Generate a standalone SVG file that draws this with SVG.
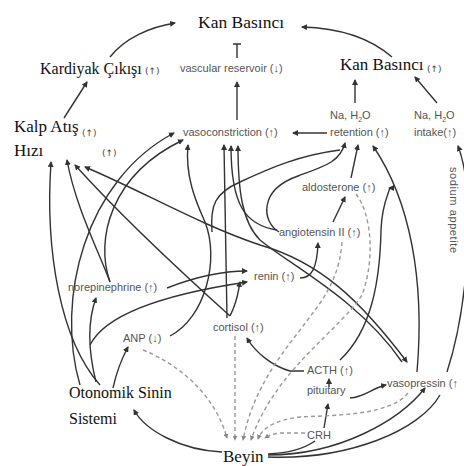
<svg xmlns="http://www.w3.org/2000/svg" width="464" height="466" viewBox="0 0 464 466">
<defs>
<marker id="ah" viewBox="0 0 6 6" refX="5" refY="3" markerWidth="6" markerHeight="6" markerUnits="userSpaceOnUse" orient="auto-start-reverse"><path d="M0,0 L6,3 L0,6 z" fill="#333"/></marker>
<marker id="ahd" viewBox="0 0 6 6" refX="5" refY="3" markerWidth="5" markerHeight="5" markerUnits="userSpaceOnUse" orient="auto"><path d="M0,0 L6,3 L0,6 z" fill="#888"/></marker>
<style>
.s{fill:none;stroke:#333;stroke-width:1.4}
.a{marker-end:url(#ah)}
.d{fill:none;stroke:#999;stroke-width:1.4;stroke-dasharray:4 3;marker-end:url(#ahd)}
.ser{font-family:"Liberation Serif",serif;fill:#111}
.lab{font-family:"Liberation Sans",Arial,sans-serif;font-size:11px;fill:#555}
.up{font-family:"DejaVu Sans","Liberation Sans",sans-serif;font-size:9px;fill:#444}
</style>
</defs>
<rect width="464" height="466" fill="#fff"/>

<g id="connectors">
<path class="s a" d="M110,57 C125,38 150,27 175,23"/>
<path class="s a" d="M64,118 L87,82"/>
<path class="s a" d="M392,57 C370,38 340,28 302,27"/>
<path class="s" d="M237,44 L237,58 M233,44 L241,44"/>
<path class="s a" d="M237,120 L237,82"/>
<path class="s a" d="M355,103 L355,80"/>
<path class="s a" d="M437,103 L415,77"/>
<path class="s a" d="M327,133 L293,133"/>
<path class="s a" d="M447,372 C470,300 475,190 458,146"/>
<path class="s a" d="M417,372 C425,280 410,200 373,146"/>
<path class="s a" d="M351,178 L358,145"/>
<path class="s a" d="M279,232 C262,222 258,190 298,176 C325,166 340,162 345,143"/>
<path class="s" d="M212,232 C210,205 215,193 240,182 C270,168 300,155 340,150"/>
<path class="s a" d="M170,336 C205,318 220,260 205,222 C195,200 185,175 188,145"/>
<path class="s a" d="M227,318 L224,145"/>
<path class="s a" d="M277,230 C245,225 231,205 231,146"/>
<path class="s a" d="M402,362 C360,300 290,265 260,240 C242,222 238,190 238,146"/>
<path class="s a" style="marker-start:url(#ah)" d="M85,167 C140,190 200,225 260,245 C320,262 360,300 407,362"/>
<path class="s a" d="M230,316 C190,280 120,215 75,165"/>
<path class="s a" d="M230,316 C238,300 238,292 240,282"/>
<path class="s a" d="M110,282 C98,250 75,205 67,160"/>
<path class="s a" d="M100,385 C60,340 45,250 51,162"/>
<path class="s a" d="M96,382 C88,350 88,320 96,298"/>
<path class="s a" d="M113,388 C117,370 122,358 128,347"/>
<path class="s a" d="M90,345 C105,315 160,295 247,282"/>
<path class="s a" d="M167,288 C200,275 225,271 247,271"/>
<path class="s a" d="M80,385 C55,300 85,180 174,133"/>
<path class="s a" d="M110,282 C95,240 110,175 183,140"/>
<path class="s a" d="M300,278 C312,278 317,268 318,243"/>
<path class="s a" d="M333,222 L345,197"/>
<path class="s a" d="M340,360 C372,330 380,280 381,230 C382,200 392,188 389,188"/>
<path class="s a" d="M304,371 L290,371 C272,366 255,352 247,338"/>
<path class="s a" d="M329,387 L329,379"/>
<path class="s a" d="M350,398 C365,397 372,388 386,385"/>
<path class="s a" d="M324,428 L328,404"/>
<path class="s" d="M268,454 C290,453 305,448 315,441"/>
<path class="s a" d="M268,455 C340,455 400,420 425,388"/>
<path class="s" d="M268,457 C350,460 420,430 440,395"/>
<path class="s a" d="M222,452 C180,450 145,430 134,410"/>
<path class="d" d="M143,350 C180,365 215,395 227,438"/>
<path class="d" d="M235,336 L235,440"/>
<path class="d" d="M342,242 C340,270 330,290 315,310 C290,345 255,380 243,440"/>
<path class="d" d="M356,194 C372,215 375,260 362,295 C340,330 275,370 251,440"/>
<path class="d" d="M408,393 C390,415 340,415 300,417 C275,420 262,428 258,439"/>
<path class="d" d="M305,433 L280,433 C272,434 268,436 265,438"/>
</g>

<g id="kan-basinci"><text class="ser" x="198" y="28" font-size="17.5">Kan Basıncı</text></g>
<g id="kardiyak"><text class="ser" x="40" y="74" font-size="16">Kardiyak Çıkışı</text><text class="up" x="145" y="74">(↑)</text></g>
<g id="vascular-reservoir"><text class="lab" x="180" y="72" font-size="10.5">vascular reservoir (↓)</text></g>
<g id="kan-basinci-2"><text class="ser" x="340" y="70" font-size="17">Kan Basıncı</text><text class="up" x="427" y="72">(↑)</text></g>
<g id="kalp-atis"><text class="ser" x="14" y="132" font-size="17">Kalp Atış</text><text class="up" x="82" y="136">(↑)</text><text class="ser" x="14" y="156" font-size="17">Hızı</text><text class="up" x="102" y="156">(↑)</text></g>
<g id="vasoconstriction"><text class="lab" x="183" y="136">vasoconstriction (↑)</text></g>
<g id="retention"><text class="lab" x="330" y="119">Na, H<tspan font-size="7" dy="3">2</tspan><tspan dy="-3">O</tspan></text><text class="lab" x="330" y="136">retention (↑)</text></g>
<g id="intake"><text class="lab" x="414" y="119">Na, H<tspan font-size="7" dy="3">2</tspan><tspan dy="-3">O</tspan></text><text class="lab" x="414" y="136">intake(↑)</text></g>
<g id="sodium-appetite"><text class="lab" transform="translate(450,167) rotate(90)" font-size="13" letter-spacing="0.6">sodium appetite</text></g>
<g id="aldosterone"><text class="lab" x="302" y="191">aldosterone (↑)</text></g>
<g id="angiotensin"><text class="lab" x="279" y="236">angiotensin II (↑)</text></g>
<g id="renin"><text class="lab" x="254" y="280">renin (↑)</text></g>
<g id="norepinephrine"><text class="lab" x="68" y="291">norepinephrine (↑)</text></g>
<g id="cortisol"><text class="lab" x="213" y="331">cortisol (↑)</text></g>
<g id="anp"><text class="lab" x="123" y="342">ANP (↓)</text></g>
<g id="acth"><text class="lab" x="307" y="374">ACTH (↑)</text></g>
<g id="pituitary"><text class="lab" x="307" y="394">pituitary</text></g>
<g id="vasopressin"><text class="lab" x="387" y="387">vasopressin (↑</text></g>
<g id="crh"><text class="lab" x="307" y="439">CRH</text></g>
<g id="otonomik"><text class="ser" x="69" y="398" font-size="16">Otonomik Sinin</text><text class="ser" x="69" y="424" font-size="16">Sistemi</text></g>
<g id="beyin"><text class="ser" x="223" y="462" font-size="17">Beyin</text></g>
</svg>
